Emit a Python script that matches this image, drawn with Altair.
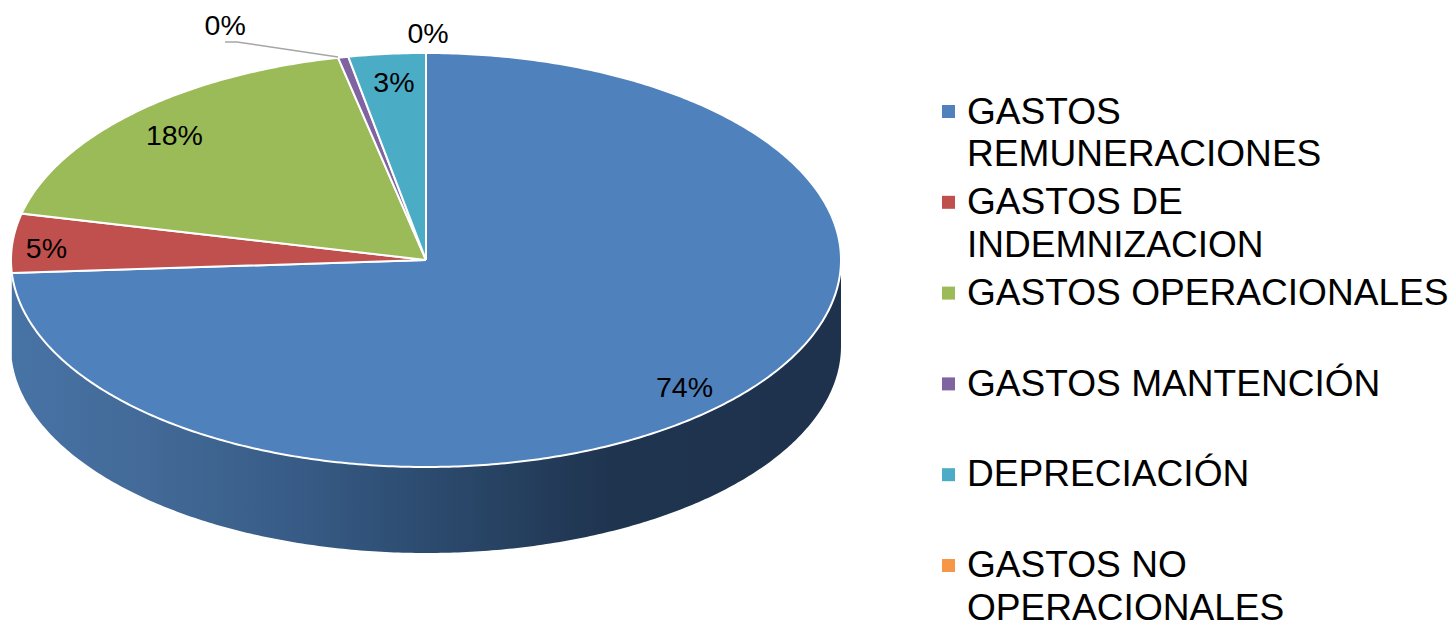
import altair as alt
import numpy as np
import pandas as pd

categories = ["GASTOS REMUNERACIONES", "GASTOS DE INDEMNIZACION", "GASTOS OPERACIONALES",
              "GASTOS MANTENCIÓN", "DEPRECIACIÓN", "GASTOS NO OPERACIONALES"]
legend_text = ["GASTOS\nREMUNERACIONES", "GASTOS DE\nINDEMNIZACION", "GASTOS OPERACIONALES",
               "GASTOS MANTENCIÓN", "DEPRECIACIÓN", "GASTOS NO\nOPERACIONALES"]
values = [74.0, 4.6, 18.0, 0.4, 3.0, 0.0]
labels = ["74%", "5%", "18%", "0%", "3%", "0%"]
colors = ["#4F81BD", "#C0504D", "#9BBB59", "#8064A2", "#4BACC6", "#F79646"]

# page coordinates of the ellipse (the page has an 8px margin)
CX, CY, RX, RY, DEPTH = 426, 260, 415, 207, 86
W, H = 1440, 613
xs = alt.Scale(domain=[-1, 1], range=[CX - RX - 8, CX + RX - 8], nice=False, zero=False)
ys = alt.Scale(domain=[-1, 1], range=[CY + RY - 8, CY - RY - 8], nice=False, zero=False)
X = lambda f="x": alt.X(f"{f}:Q", scale=xs, axis=None)
Y = lambda f="y": alt.Y(f"{f}:Q", scale=ys, axis=None)

cum = np.concatenate([[0], np.cumsum(values)]) / sum(values) * 2 * np.pi

# slice polygons, clockwise from 12 o'clock
rows = []
for i, c in enumerate(categories[:5]):
    th = np.linspace(cum[i], cum[i + 1], max(3, int(values[i] * 6)))
    pts = [(0.0, 0.0)] + [(np.sin(t), np.cos(t)) for t in th] + [(0.0, 0.0)]
    rows += [dict(cat=c, o=k, x=p[0], y=p[1]) for k, p in enumerate(pts)]
slices = pd.DataFrame(rows)

# outer wall of the first slice, its visible part only
d = DEPTH / RY
th = np.linspace(np.pi / 2, cum[1], 300)
wall_pts = [(np.sin(t), np.cos(t)) for t in th] + [(np.sin(t), np.cos(t) - d) for t in th[::-1]]
wall_pts.append(wall_pts[0])
wall = pd.DataFrame([dict(o=k, x=p[0], y=p[1], cat=categories[0]) for k, p in enumerate(wall_pts)])

wall_fill = alt.Gradient(gradient="linear", x1=0, y1=0, x2=1, y2=0, stops=[
    alt.GradientStop(offset=0.0, color="#4773A5"),
    alt.GradientStop(offset=0.16, color="#436A98"),
    alt.GradientStop(offset=0.36, color="#365A84"),
    alt.GradientStop(offset=0.52, color="#2B496C"),
    alt.GradientStop(offset=0.72, color="#1F344F"),
    alt.GradientStop(offset=1.0, color="#1E324D"),
])

wall_layer = alt.Chart(wall).mark_line(filled=True, fill=wall_fill, strokeWidth=0, interpolate="linear").encode(
    x=X(), y=Y(), order="o:Q")

color = alt.Color("cat:N", scale=alt.Scale(domain=categories, range=colors), legend=None)
slice_layer = alt.Chart(slices).mark_line(filled=True, stroke="white", strokeWidth=2, strokeJoin="miter").encode(
    x=X(), y=Y(), order="o:Q", color=color)

# data labels, anchored on the rim at each slice's middle angle
mid = (cum[:-1] + cum[1:]) / 2
offsets = [(-44, -14), (34, 6), (40, 23), (-118, -31), (7, 29), (2, -19)]
label_layers = []
for i, lab in enumerate(labels):
    df = pd.DataFrame([dict(x=np.sin(mid[i]), y=np.cos(mid[i]), t=lab)])
    label_layers.append(
        alt.Chart(df).mark_text(font="Liberation Sans", fontSize=28.5, color="black",
                                dx=offsets[i][0], dy=offsets[i][1], baseline="middle", align="center")
        .encode(x=X(), y=Y(), text="t:N"))

# leader line of the small slice
leader = pd.DataFrame(dict(x=[(225 - CX) / RX, (237 - CX) / RX, (338 - CX) / RX],
                           y=[(CY - 42) / RY, (CY - 42) / RY, (CY - 57) / RY], o=[0, 1, 2]))
leader_layer = alt.Chart(leader).mark_line(color="#A6A6A6", strokeWidth=1.5).encode(x=X(), y=Y(), order="o:Q")

# legend
leg = pd.DataFrame(dict(cat=categories, t=legend_text,
                        y=[(CY - (123.5 + 90.7 * i)) / RY for i in range(6)],
                        ys=[(CY - (111.5 + 90.8 * i)) / RY for i in range(6)]))
leg_sq = alt.Chart(leg).mark_square(size=169, opacity=1).encode(
    x=alt.value(948.5 - 8), y=Y("ys"), color=color)
leg_tx = alt.Chart(leg).mark_text(font="Liberation Sans", fontSize=37.1, color="black", align="left",
                                  baseline="alphabetic", lineBreak="\n", lineHeight=42.6).encode(
    x=alt.value(967 - 8), y=Y(), text="t:N")

chart = alt.layer(wall_layer, slice_layer, leader_layer, *label_layers, leg_sq, leg_tx).properties(
    width=W, height=H, padding=0, autosize=alt.AutoSizeParams(type="none"),
    background="white",
).configure_view(stroke=None)

chart.save("out.html", embed_options={"renderer": "svg", "actions": False})
